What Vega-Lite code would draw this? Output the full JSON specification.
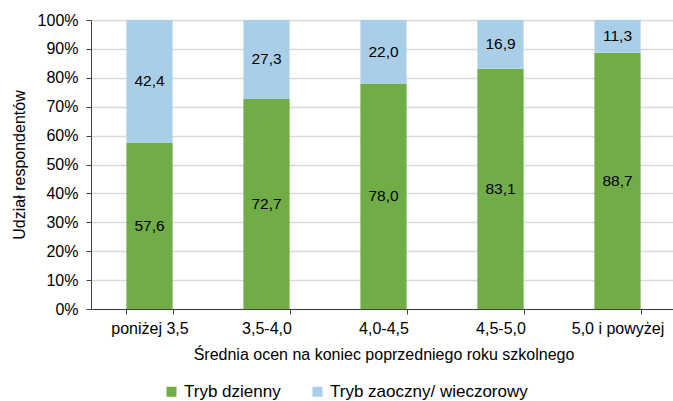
{
  "$schema": "https://vega.github.io/schema/vega-lite/v6.json",
  "autosize": {"type": "none"},
  "width": 585,
  "height": 289,
  "padding": {"left": 91, "top": 20, "right": 0, "bottom": 92},
  "background": "white",
  "config": {
    "font": "Liberation Sans",
    "view": {"stroke": null},
    "locale": {"number": {"decimal": ",", "thousands": " ", "grouping": [3], "currency": ["", " zł"]}},
    "axisY": {
      "titleFontSize": 16,
      "titleFontWeight": "normal",
      "titleColor": "#000000",
      "titlePadding": 10,
      "values": [0, 10, 20, 30, 40, 50, 60, 70, 80, 90, 100],
      "labelOverlap": false,
      "labelExpr": "datum.value + '%'",
      "labelFontSize": 16,
      "labelColor": "#000000",
      "labelPadding": 8,
      "tickSize": 5,
      "tickColor": "#404040",
      "domainColor": "#404040",
      "gridColor": "#D9D9D9",
      "gridWidth": 1.5
    }
  },
  "data": {
    "values": [
      {"kat": "poniżej 3,5", "tryb": "Tryb dzienny", "v": 57.6},
      {"kat": "poniżej 3,5", "tryb": "Tryb zaoczny/ wieczorowy", "v": 42.4},
      {"kat": "3,5-4,0", "tryb": "Tryb dzienny", "v": 72.7},
      {"kat": "3,5-4,0", "tryb": "Tryb zaoczny/ wieczorowy", "v": 27.3},
      {"kat": "4,0-4,5", "tryb": "Tryb dzienny", "v": 78.0},
      {"kat": "4,0-4,5", "tryb": "Tryb zaoczny/ wieczorowy", "v": 22.0},
      {"kat": "4,5-5,0", "tryb": "Tryb dzienny", "v": 83.1},
      {"kat": "4,5-5,0", "tryb": "Tryb zaoczny/ wieczorowy", "v": 16.9},
      {"kat": "5,0 i powyżej", "tryb": "Tryb dzienny", "v": 88.7},
      {"kat": "5,0 i powyżej", "tryb": "Tryb zaoczny/ wieczorowy", "v": 11.3}
    ]
  },
  "transform": [
    {"stack": "v", "groupby": ["kat"], "sort": [{"field": "tryb", "order": "ascending"}], "as": ["y0", "y1"]},
    {"calculate": "(datum.y0 + datum.y1) / 2", "as": "ymid"}
  ],
  "encoding": {
    "x": {
      "field": "kat",
      "type": "nominal",
      "sort": ["poniżej 3,5", "3,5-4,0", "4,0-4,5", "4,5-5,0", "5,0 i powyżej"],
      "scale": {"paddingInner": 0.605, "paddingOuter": 0.3025},
      "axis": {
        "title": "Średnia ocen na koniec poprzedniego roku szkolnego",
        "titleFont": "Liberation Sans",
        "titleFontSize": 16,
        "titleFontWeight": "normal",
        "titleColor": "#000000",
        "titlePadding": 10,
        "labelAngle": 0,
        "labelFontSize": 16,
        "labelColor": "#000000",
        "labelPadding": 6,
        "tickBand": "extent",
        "tickSize": 5,
        "tickColor": "#404040",
        "domainColor": "#404040",
        "grid": false
      }
    }
  },
  "layer": [
    {
      "mark": {"type": "bar"},
      "encoding": {
        "y": {
          "field": "y1",
          "type": "quantitative",
          "scale": {"domain": [0, 100], "nice": false},
          "axis": {"title": "Udział respondentów"}
        },
        "y2": {"field": "y0"},
        "color": {
          "field": "tryb",
          "type": "nominal",
          "scale": {"domain": ["Tryb dzienny", "Tryb zaoczny/ wieczorowy"], "range": ["#70AD47", "#A9CFE8"]},
          "legend": {
            "title": null,
            "orient": "none",
            "legendX": 72,
            "legendY": 363,
            "direction": "horizontal",
            "symbolType": "square",
            "symbolSize": 100,
            "symbolStrokeWidth": 0,
            "labelFontSize": 17,
            "labelColor": "#000000",
            "labelLimit": 400,
            "columnPadding": 28,
            "labelOffset": 4
          }
        }
      }
    },
    {
      "mark": {"type": "text", "fontSize": 15.5, "color": "#000000", "baseline": "middle"},
      "encoding": {
        "y": {"field": "ymid", "type": "quantitative", "axis": {"title": "Udział respondentów"}},
        "text": {"field": "v", "type": "quantitative", "format": ".1f"}
      }
    }
  ]
}
